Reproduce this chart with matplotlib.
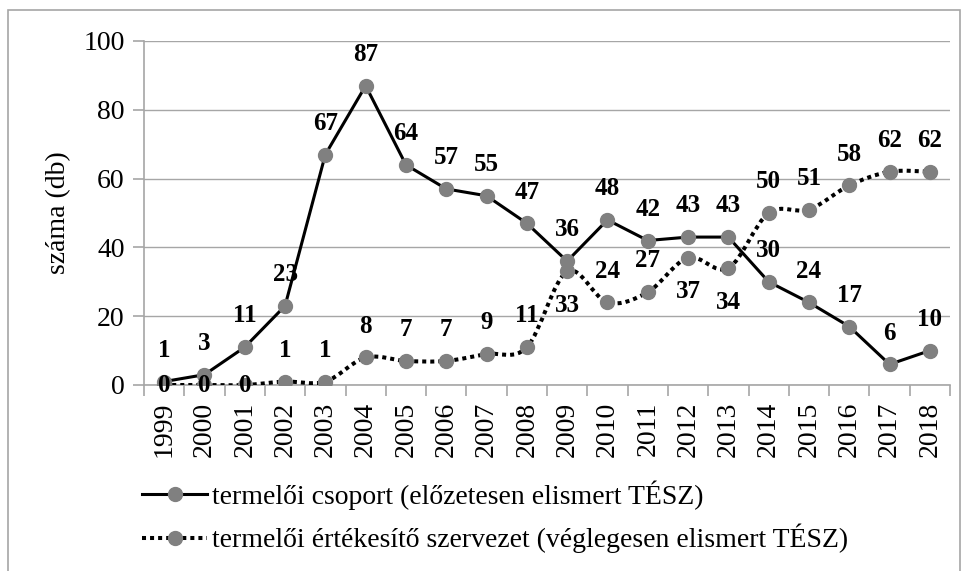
import matplotlib
matplotlib.use("Agg")
import matplotlib.pyplot as plt
from matplotlib.path import Path
from matplotlib.patches import PathPatch, Rectangle
from matplotlib.lines import Line2D
import numpy as np

years = ["1999", "2000", "2001", "2002", "2003", "2004", "2005", "2006", "2007", "2008",
         "2009", "2010", "2011", "2012", "2013", "2014", "2015", "2016", "2017", "2018"]
csoport = [1, 3, 11, 23, 67, 87, 64, 57, 55, 47, 36, 48, 42, 43, 43, 30, 24, 17, 6, 10]
szervezet = [0, 0, 0, 1, 1, 8, 7, 7, 9, 11, 33, 24, 27, 37, 34, 50, 51, 58, 62, 62]
label_csoport = "termelői csoport (előzetesen elismert TÉSZ)"
label_szervezet = "termelői értékesítő szervezet (véglegesen elismert TÉSZ)"
y_label = "száma (db)"

# label placement for second series: c = on point, a = above, b = below
pos_szervezet = ["c", "c", "c", "a", "a", "a", "a", "a", "a", "a",
                 "b", "a", "a", "b", "b", "a", "a", "a", "a", "a"]

plt.rcParams["font.family"] = ["Liberation Serif", "DejaVu Serif"]

W, H = 969, 571
fig = plt.figure(figsize=(W / 100, H / 100), dpi=100)
ax = fig.add_axes([144 / W, 1 - 385 / H, (950 - 144) / W, (385 - 41) / H])

x = np.arange(len(years))
gray = "#808080"
gridc = "#a6a6a6"
FS = 20

# solid series
ax.plot(x, csoport, color="black", lw=2.2, marker="o", ms=10,
        mfc=gray, mec=gray, zorder=3, solid_joinstyle="round")

# smoothed dotted series (Bezier through data points)
pts = np.column_stack([x, szervezet]).astype(float)
verts = [tuple(pts[0])]
codes = [Path.MOVETO]
n = len(pts)
for i in range(n - 1):
    p0 = pts[i - 1] if i > 0 else pts[i]
    p1 = pts[i]
    p2 = pts[i + 1]
    p3 = pts[i + 2] if i + 2 < n else pts[i + 1]
    c1 = p1 + (p2 - p0) / 6.0
    c2 = p2 - (p3 - p1) / 6.0
    verts += [tuple(c1), tuple(c2), tuple(p2)]
    codes += [Path.CURVE4, Path.CURVE4, Path.CURVE4]
patch = PathPatch(Path(verts, codes), fill=False, edgecolor="black", lw=2.9,
                  linestyle=(0, (1, 1)), capstyle="butt", zorder=3)
ax.add_patch(patch)
ax.plot(x, szervezet, linestyle="none", marker="o", ms=10, mfc=gray, mec=gray, zorder=4)

# data labels
off = 22.5
LFS = 18
for xi, v in zip(x, csoport):
    ax.annotate(str(v), (xi, v), xytext=(0, off), textcoords="offset points",
                ha="center", va="center", fontsize=LFS, fontweight="bold", zorder=5)
for xi, v, p in zip(x, szervezet, pos_szervezet):
    dy = {"c": 0, "a": off, "b": -off - 2}[p]
    ax.annotate(str(v), (xi, v), xytext=(0, dy), textcoords="offset points",
                ha="center", va="center", fontsize=LFS, fontweight="bold", zorder=5)

ax.set_xlim(-0.5, len(years) - 0.5)
ax.set_ylim(0, 100)
ax.set_yticks(range(0, 101, 20))
ax.set_xticks(x)
ax.set_xticklabels(years, rotation=90, fontsize=FS)
ax.tick_params(axis="x", length=0, pad=12)
ax.set_xticks(np.arange(-0.5, len(years), 1), minor=True)
ax.tick_params(axis="x", which="minor", length=8, color=gridc, width=1.2, direction="out")
ax.tick_params(axis="y", length=8, color=gridc, width=1.2, labelsize=FS, pad=6)
ax.yaxis.grid(True, color=gridc, lw=1.0)
ax.set_axisbelow(True)
for s in ["top", "right"]:
    ax.spines[s].set_visible(False)
for s in ["left", "bottom"]:
    ax.spines[s].set_color(gridc)
    ax.spines[s].set_linewidth(1.2)
ax.set_ylabel(y_label, fontsize=FS, labelpad=9)

h1 = Line2D([], [], color="black", lw=2.2, marker="o", ms=10, mfc=gray, mec=gray)
h2 = Line2D([], [], color="black", lw=2.9, linestyle=(0, (1, 1)), dash_capstyle="butt",
            marker="o", ms=10, mfc=gray, mec=gray)
fig.legend([h1, h2], [label_csoport, label_szervezet], loc="center left",
           bbox_to_anchor=(142 / W, 1 - 517 / H), frameon=False, fontsize=FS,
           handlelength=2.35, handletextpad=0.18, labelspacing=0.5,
           borderpad=0, borderaxespad=0)

fig.patches.append(Rectangle((8 / W, -0.1), (960 - 8) / W, 1 - 10 / H + 0.1,
                             transform=fig.transFigure, fill=False,
                             edgecolor="#a6a6a6", lw=1.2))

fig.savefig("out.png", dpi=100)
